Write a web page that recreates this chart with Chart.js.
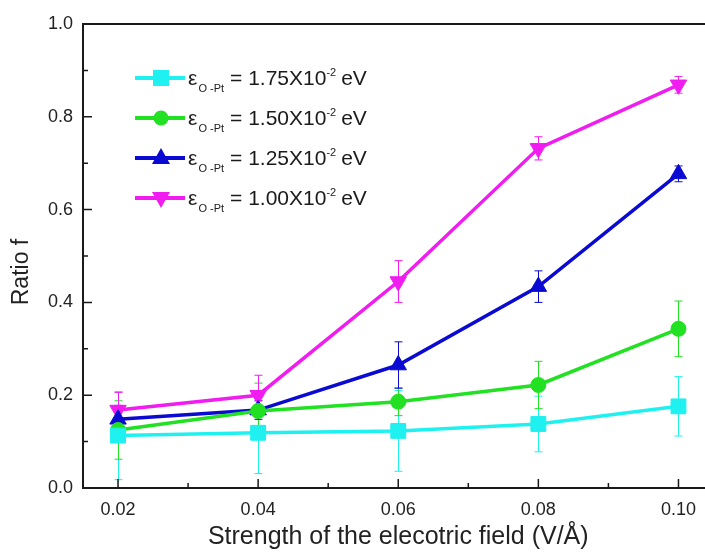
<!DOCTYPE html>
<html>
<head>
<meta charset="utf-8">
<script src="https://cdn.jsdelivr.net/npm/chart.js@4.4.0/dist/chart.umd.min.js"></script>
<style>
  html, body { margin: 0; padding: 0; background: #fff; }
  #wrap { position: relative; width: 705px; height: 554px; overflow: hidden; }
  #c { position: absolute; left: 0; top: 0; }
  #legend { position: absolute; left: 135px; top: 58px; font-family: "Liberation Sans", Arial, sans-serif; color: #1a1a1a; }
  .row { position: absolute; left: 0; height: 40px; white-space: nowrap; font-size: 21px; line-height: 40px; }
  .row svg { position: absolute; left: 0; top: 10px; }
  .row .txt { position: absolute; left: 53px; top: 0; }
  .eps { font-size: 21px; }
  .sub { font-size: 11px; position: relative; top: 7px; margin-left: 1px; margin-right: 6px; }
  .sup { font-size: 11px; position: relative; top: -9px; margin-right: 5px; }
</style>
</head>
<body>
<div id="wrap">
  <canvas id="c" width="725" height="554"></canvas>
  <div id="legend"></div>
</div>
<script>
const fieldX = [0.02, 0.04, 0.06, 0.08, 0.10];
const seriesNames = ['1.75', '1.50', '1.25', '1.00'];
const colors = ['#1ff0f0', '#22e022', '#0a0ad2', '#f01cf0'];
const ratio175 = [0.113, 0.119, 0.123, 0.138, 0.176];
const err175 = [0.095, 0.088, 0.087, 0.060, 0.064];
const ratio150 = [0.125, 0.166, 0.186, 0.222, 0.343];
const err150 = [0.063, 0.060, 0.030, 0.051, 0.060];
const ratio125 = [0.148, 0.168, 0.265, 0.434, 0.677];
const err125 = [0.030, 0.020, 0.050, 0.034, 0.017];
const ratio100 = [0.168, 0.200, 0.445, 0.732, 0.869];
const err100 = [0.038, 0.043, 0.045, 0.025, 0.018];
const xTicks = [0.02, 0.04, 0.06, 0.08, 0.10];
const xMinor = [0.03, 0.05, 0.07, 0.09];
const yTicks = [0, 0.2, 0.4, 0.6, 0.8, 1.0];
const yMinor = [0.1, 0.3, 0.5, 0.7, 0.9];

const ratios = [ratio175, ratio150, ratio125, ratio100];
const errs = [err175, err150, err125, err100];
const styles = [
  { pointStyle: 'rect', pointRadius: 10.5, rotation: 0 },
  { pointStyle: 'circle', pointRadius: 7.5, rotation: 0 },
  { pointStyle: 'triangle', pointRadius: 9.5, rotation: 0 },
  { pointStyle: 'triangle', pointRadius: 9.5, rotation: 180 }
];

const datasets = ratios.map((vals, i) => ({
  label: seriesNames[i],
  data: fieldX.map((x, j) => ({ x: x, y: vals[j] })),
  borderColor: colors[i],
  backgroundColor: colors[i],
  borderWidth: 3.5,
  pointStyle: styles[i].pointStyle,
  pointRadius: styles[i].pointRadius,
  pointRotation: styles[i].rotation,
  pointBorderWidth: 1,
  pointHoverRadius: styles[i].pointRadius,
  tension: 0,
  errors: errs[i]
}));

const fontFam = '"Liberation Sans", Arial, sans-serif';

// error bars, drawn behind the lines
const errorBars = {
  id: 'errorBars',
  beforeDatasetsDraw(chart) {
    const { ctx, scales: { x, y } } = chart;
    ctx.save();
    ctx.lineWidth = 1;
    chart.data.datasets.forEach(ds => {
      ctx.strokeStyle = ds.borderColor;
      ds.data.forEach((p, j) => {
        const px = Math.round(x.getPixelForValue(p.x)) + 0.5;
        const top = y.getPixelForValue(p.y + ds.errors[j]);
        const bot = y.getPixelForValue(p.y - ds.errors[j]);
        ctx.beginPath();
        ctx.moveTo(px, top); ctx.lineTo(px, bot);
        ctx.moveTo(px - 4, top); ctx.lineTo(px + 4, top);
        ctx.moveTo(px - 4, bot); ctx.lineTo(px + 4, bot);
        ctx.stroke();
      });
    });
    ctx.restore();
  }
};

// frame, inward tick marks and the y title
const frame = {
  id: 'frame',
  afterDraw(chart) {
    const { ctx, chartArea: a, scales: { x, y } } = chart;
    ctx.save();
    ctx.strokeStyle = '#1a1a1a';
    ctx.lineWidth = 2;
    ctx.beginPath();
    ctx.moveTo(a.right, a.top); ctx.lineTo(a.left, a.top);
    ctx.lineTo(a.left, a.bottom); ctx.lineTo(a.right, a.bottom);
    ctx.lineTo(a.right, a.top);
    ctx.stroke();
    ctx.lineWidth = 1.5;
    ctx.beginPath();
    yTicks.forEach(v => { const py = y.getPixelForValue(v); ctx.moveTo(a.left, py); ctx.lineTo(a.left + 9, py); });
    yMinor.forEach(v => { const py = y.getPixelForValue(v); ctx.moveTo(a.left, py); ctx.lineTo(a.left + 5, py); });
    xTicks.forEach(v => { const px = x.getPixelForValue(v); ctx.moveTo(px, a.bottom); ctx.lineTo(px, a.bottom - 9); });
    xMinor.forEach(v => { const px = x.getPixelForValue(v); ctx.moveTo(px, a.bottom); ctx.lineTo(px, a.bottom - 5); });
    ctx.stroke();

    ctx.translate(22, 272);
    ctx.rotate(-Math.PI / 2);
    ctx.fillStyle = '#222';
    ctx.font = '23px ' + fontFam;
    ctx.textAlign = 'center';
    ctx.textBaseline = 'middle';
    ctx.fillText('Ratio f', 0, 0);
    ctx.restore();
  }
};

new Chart(document.getElementById('c'), {
  type: 'line',
  data: { datasets: datasets },
  options: {
    responsive: false,
    animation: false,
    layout: { padding: { top: 24, right: 9, left: 0, bottom: 0 } },
    plugins: { legend: { display: false }, tooltip: { enabled: false } },
    scales: {
      x: {
        type: 'linear',
        min: 0.015,
        max: 0.105,
        afterBuildTicks: s => { s.ticks = xTicks.map(v => ({ value: v })); },
        afterFit: s => { s.height = 66; },
        grid: { display: false },
        border: { display: false },
        ticks: {
          padding: 3,
          color: '#222',
          font: { family: fontFam, size: 18 },
          callback: v => v.toFixed(2)
        },
        title: {
          display: true,
          text: 'Strength of the elecotric field (V/\u00c5)',
          color: '#222',
          font: { family: fontFam, size: 25 },
          padding: { top: 0, bottom: 2 }
        }
      },
      y: {
        min: 0,
        max: 1.0,
        afterBuildTicks: s => { s.ticks = yTicks.map(v => ({ value: v })); },
        afterFit: s => { s.width = 83; },
        grid: { display: false },
        border: { display: false },
        ticks: {
          padding: 2,
          color: '#222',
          font: { family: fontFam, size: 18 },
          callback: v => v.toFixed(1)
        }
      }
    }
  },
  plugins: [errorBars, frame]
});

// legend with sub/superscripts
const legend = document.getElementById('legend');
seriesNames.forEach((name, i) => {
  const st = styles[i];
  let mark = '';
  if (st.pointStyle === 'rect') mark = `<rect x="18" y="2" width="16" height="16" fill="${colors[i]}"/>`;
  else if (st.pointStyle === 'circle') mark = `<circle cx="26" cy="10" r="7.5" fill="${colors[i]}"/>`;
  else if (st.rotation === 0) mark = `<polygon points="26,0 35,16 17,16" fill="${colors[i]}"/>`;
  else mark = `<polygon points="26,20 35,4 17,4" fill="${colors[i]}"/>`;
  const row = document.createElement('div');
  row.className = 'row';
  row.style.top = (i * 40) + 'px';
  row.innerHTML = `<svg width="52" height="20"><line x1="0" y1="10" x2="50" y2="10" stroke="${colors[i]}" stroke-width="4"/>${mark}</svg>` +
    `<span class="txt"><span class="eps">\u03b5</span><span class="sub">O -Pt</span>= ${name}X10<span class="sup">-2</span>eV</span>`;
  legend.appendChild(row);
});
</script>
</body>
</html>
